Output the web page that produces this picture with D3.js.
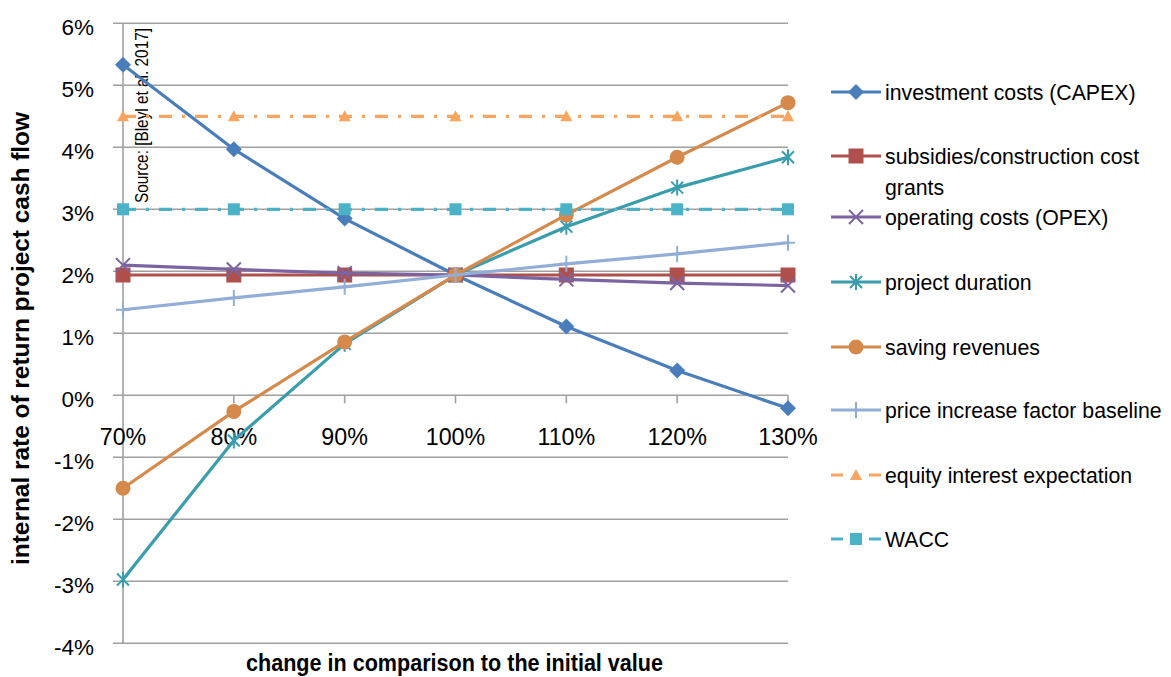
<!DOCTYPE html>
<html><head><meta charset="utf-8">
<script src="https://cdn.jsdelivr.net/npm/d3@7"></script>
<style>body{margin:0;background:#fff}svg{display:block}text{font-family:"Liberation Sans",Arial,sans-serif}</style>
</head><body>
<script>
const categories = ["70%","80%","90%","100%","110%","120%","130%"];
const yTicks = [-4,-3,-2,-1,0,1,2,3,4,5,6];
const capex = [5.33,3.97,2.85,1.94,1.11,0.40,-0.21];
const subsidies = [1.94,1.94,1.94,1.94,1.94,1.94,1.94];
const opex = [2.10,2.03,1.97,1.94,1.87,1.81,1.77];
const duration = [-2.97,-0.73,0.83,1.94,2.72,3.35,3.84];
const saving = [-1.50,-0.26,0.86,1.94,2.91,3.84,4.72];
const priceInc = [1.38,1.57,1.75,1.94,2.12,2.28,2.46];
const equity = [4.5,4.5,4.5,4.5,4.5,4.5,4.5];
const wacc = [3.0,3.0,3.0,3.0,3.0,3.0,3.0];
const seriesNames = ["investment costs (CAPEX)","subsidies/construction cost grants","operating costs (OPEX)","project duration","saving revenues","price increase factor baseline","equity interest expectation","WACC"];

const series = [
  {name:seriesNames[0], values:capex, color:"#4A7EBB", marker:"diamond", dash:null},
  {name:seriesNames[1], values:subsidies, color:"#B0504C", marker:"square", dash:null},
  {name:seriesNames[2], values:opex, color:"#7B64A0", marker:"x", dash:null},
  {name:seriesNames[3], values:duration, color:"#3A9DAE", marker:"star", dash:null},
  {name:seriesNames[4], values:saving, color:"#D58A4C", marker:"circle", dash:null},
  {name:seriesNames[5], values:priceInc, color:"#93AED6", marker:"plus", dash:null},
  {name:seriesNames[6], values:equity, color:"#F9A45F", marker:"triangle", dash:"13,10,3,10"},
  {name:seriesNames[7], values:wacc, color:"#4BB2C8", marker:"square2", dash:"13,10,3,10"}
];

const W=1171,H=677;
const svg=d3.select("body").append("svg").attr("width",W).attr("height",H);
const x=d3.scalePoint().domain(categories).range([123,788]);
const y=d3.scaleLinear().domain([-4,6]).range([643.3,23.3]);
const grid="#A0A0A0";

function condense(sel,f){ sel.each(function(){ const L=this.getComputedTextLength(); d3.select(this).attr("textLength",L*f).attr("lengthAdjust","spacingAndGlyphs"); }); }

// horizontal gridlines
svg.append("g").selectAll("line").data(yTicks).join("line")
  .attr("x1",113).attr("x2",788).attr("y1",d=>y(d)).attr("y2",d=>y(d))
  .attr("stroke",grid).attr("stroke-width",1.6);
// y axis line
svg.append("line").attr("x1",123).attr("x2",123).attr("y1",y(6)).attr("y2",y(-4)).attr("stroke",grid).attr("stroke-width",1.6);
// x axis ticks at 0%
svg.append("g").selectAll("line").data(categories.slice(1)).join("line")
  .attr("x1",d=>x(d)).attr("x2",d=>x(d)).attr("y1",y(0)).attr("y2",y(0)+8)
  .attr("stroke",grid).attr("stroke-width",1.6);

// y tick labels
svg.append("g").selectAll("text").data(yTicks).join("text")
  .attr("x",94).attr("y",d=>y(d)+12).attr("text-anchor","end")
  .attr("font-size",22.5).attr("fill","#000").text(d=>d+"%");
// x tick labels
svg.append("g").selectAll("text").data(categories).join("text")
  .attr("x",d=>x(d)).attr("y",445).attr("text-anchor","middle")
  .attr("font-size",24.5).attr("fill","#000").text(d=>d)
  .call(condense,0.95);

// axis titles
svg.append("text").attr("transform","translate(29,338.5) rotate(-90)").attr("text-anchor","middle")
  .attr("font-size",23).attr("font-weight","bold").attr("textLength",453).attr("lengthAdjust","spacingAndGlyphs")
  .text("internal rate of return project cash flow");
svg.append("text").attr("x",454.5).attr("y",671).attr("text-anchor","middle")
  .attr("font-size",23).attr("font-weight","bold").attr("textLength",417).attr("lengthAdjust","spacingAndGlyphs")
  .text("change in comparison to the initial value");
// source
svg.append("text").attr("transform","translate(148,115.5) rotate(-90)").attr("text-anchor","middle")
  .attr("font-size",18).attr("fill","#000").attr("textLength",175).attr("lengthAdjust","spacingAndGlyphs")
  .text("Source: [Bleyl et al. 2017]");

function drawMarker(g,type,cx,cy,color){
  const s=g.append("g").attr("transform",`translate(${cx},${cy})`);
  switch(type){
    case "diamond": s.append("path").attr("d","M0,-8L8,0L0,8L-8,0Z").attr("fill",color); break;
    case "square": s.append("rect").attr("x",-7.5).attr("y",-7.5).attr("width",15).attr("height",15).attr("fill",color); break;
    case "square2": s.append("rect").attr("x",-6).attr("y",-6).attr("width",12).attr("height",12).attr("fill",color); break;
    case "circle": s.append("circle").attr("r",7.5).attr("fill",color); break;
    case "triangle": s.append("path").attr("d","M0,-6L6,5L-6,5Z").attr("fill",color); break;
    case "x": s.append("path").attr("d","M-7,-7L7,7M-7,7L7,-7").attr("stroke",color).attr("stroke-width",2); break;
    case "star": s.append("path").attr("d","M-6,-6L6,6M-6,6L6,-6M0,-8L0,8").attr("stroke",color).attr("stroke-width",2); break;
    case "plus": s.append("path").attr("d","M-7,0L7,0M0,-8L0,8").attr("stroke",color).attr("stroke-width",2); break;
  }
}

const line=d3.line().x((d,i)=>x(categories[i])).y(d=>y(d));
series.forEach(s=>{
  const g=svg.append("g");
  g.append("path").attr("d",line(s.values)).attr("fill","none").attr("stroke",s.color)
    .attr("stroke-width",3.2).attr("stroke-dasharray",s.dash).attr("stroke-linejoin","round");
  s.values.forEach((v,i)=>drawMarker(g,s.marker,x(categories[i]),y(v),s.color));
});

// legend
const legY=[92,156,217,282,347,410,475,539];
series.forEach((s,i)=>{
  const g=svg.append("g");
  const ly=legY[i];
  g.append("line").attr("x1",831).attr("x2",881).attr("y1",ly).attr("y2",ly)
    .attr("stroke",s.color).attr("stroke-width",3.2).attr("stroke-dasharray",s.dash?"12,26,12":null);
  drawMarker(g,s.marker,856,ly,s.color);
  const lines = i===1 ? ["subsidies/construction cost","grants"] : [s.name];
  lines.forEach((t,k)=>{
    g.append("text").attr("x",885).attr("y",ly+k*31).attr("dy","0.36em").attr("font-size",22.5).text(t)
      .call(condense,0.945);
  });
});
</script>
</body></html>
